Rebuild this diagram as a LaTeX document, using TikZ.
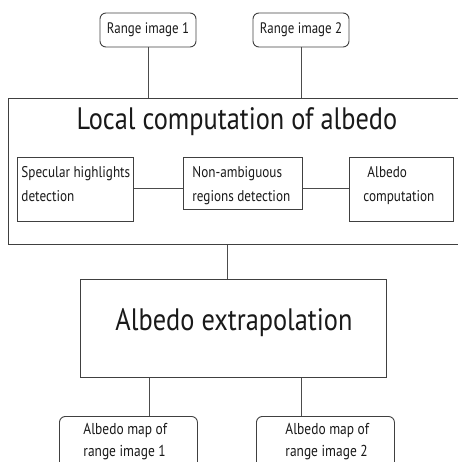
\documentclass[tikz,border=0pt]{standalone}
\usepackage{fontspec}
\setmainfont{PT Sans}[FakeStretch=0.85]
\begin{document}
\begin{tikzpicture}[x=1pt,y=-1pt,
  line width=0.9pt,
  every node/.style={text=black!90, inner sep=0pt},
  box/.style={draw=black!75, line width=0.9pt},
  rbox/.style={box, rounded corners=6pt},
  conn/.style={draw=black!70, line width=0.9pt},
  small/.style={font=\fontsize{15.5}{24}\selectfont, align=left, anchor=north west}]
\useasboundingbox (0,0) rectangle (457,462);
% top inputs
\node[rbox, minimum width=96pt, minimum height=34pt, font=\fontsize{15.2}{18}\selectfont] (r1) at (148,30) {Range image 1};
\node[rbox, minimum width=96pt, minimum height=34pt, font=\fontsize{15.2}{18}\selectfont] (r2) at (301,30) {Range image 2};
% big box
\node[box, anchor=north west, minimum width=470pt, minimum height=146pt] (big) at (8,98) {};
\node[font=\fontsize{31}{36}\selectfont] (title) at (237,122) {Local computation of albedo};
% inner boxes
\node[box, anchor=north west, minimum width=116pt, minimum height=64pt] (spec) at (17,157) {};
\node[small] (spect) at (21,166) {Specular highlights\\detection};
\node[box, anchor=north west, minimum width=119pt, minimum height=52pt] (nonamb) at (183,157) {};
\node[small] (nonambt) at (192,166) {Non-ambiguous\\regions detection};
\node[box, anchor=north west, minimum width=104pt, minimum height=64pt] (alb) at (349,157) {};
\node[small] (albt) at (363,166) {\hspace{4pt}Albedo\\computation};
\draw[conn] (spec.east |- 0,188) -- (nonamb.west |- 0,188);
\draw[conn] (nonamb.east |- 0,188) -- (alb.west |- 0,188);
% extrapolation
\node[box, anchor=north west, minimum width=306pt, minimum height=98pt] (ext) at (80,279) {};
\node[font=\fontsize{31}{36}\selectfont] (extt) at (234,323) {Albedo extrapolation};
% outputs
\node[rbox, anchor=north west, minimum width=138pt, minimum height=52pt] (o1) at (59,416) {};
\node[font=\fontsize{15.8}{22}\selectfont, align=left, anchor=north west] (o1t) at (83,423) {Albedo map of\\range image 1};
\node[rbox, anchor=north west, minimum width=138pt, minimum height=52pt] (o2) at (256,416) {};
\node[font=\fontsize{15.8}{22}\selectfont, align=left, anchor=north west] (o2t) at (285,423) {Albedo map of\\range image 2};
% connectors
\draw[conn] (r1.south) -- (r1.south |- big.north);
\draw[conn] (r2.south) -- (r2.south |- big.north);
\draw[conn] (big.south -| 227,0) -- (ext.north -| 227,0);
\draw[conn] (ext.south -| 149,0) -- (o1.north -| 149,0);
\draw[conn] (ext.south -| 301,0) -- (o2.north -| 301,0);
\end{tikzpicture}
\end{document}
